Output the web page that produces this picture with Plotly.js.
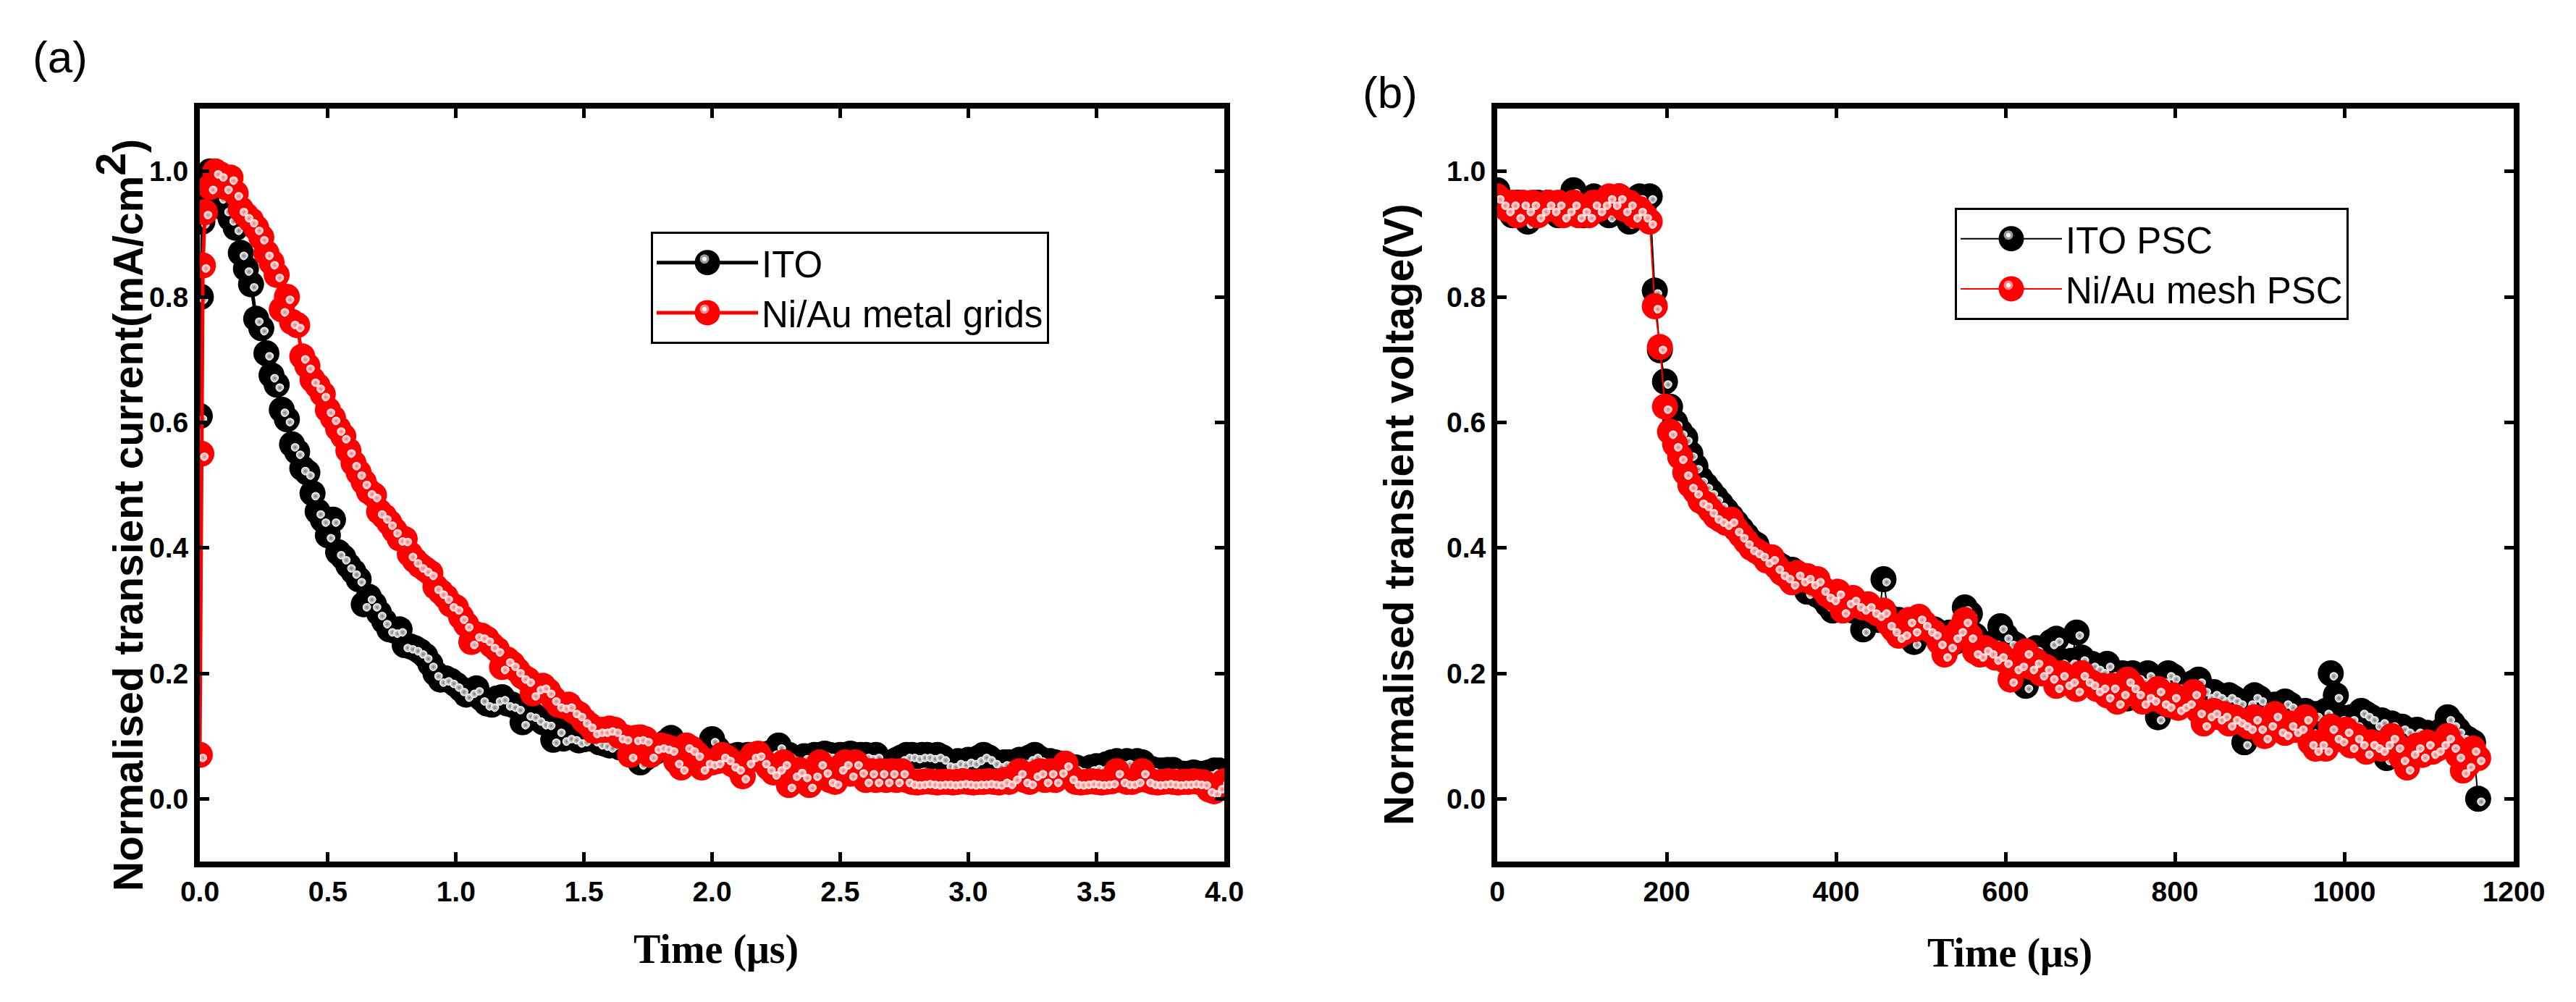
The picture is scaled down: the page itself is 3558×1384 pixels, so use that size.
<!DOCTYPE html>
<html>
<head>
<meta charset="utf-8">
<script src="https://cdn.plot.ly/plotly-3.0.1.min.js"></script>
<style>
  html, body { margin: 0; padding: 0; background: #fff; }
  #chart { width: 3558px; height: 1384px; }
</style>
</head>
<body>
<div id="chart"></div>
<script>
// (a) transient current, time step 0.02 us after the rise points
const itoRiseTime = [0, 0.004, 0.01]
const itoRise = [0.61, 0.80, 0.92]
const itoCurrent = [
  0.97, 1.00, 0.99, 0.96, 0.94, 0.925, 0.91, 0.87, 0.845, 0.82,
  0.765, 0.75, 0.71, 0.675, 0.66, 0.62, 0.605, 0.565, 0.553, 0.527,
  0.52, 0.487, 0.458, 0.445, 0.42, 0.445, 0.393, 0.385, 0.372, 0.362,
  0.35, 0.31, 0.322, 0.31, 0.296, 0.283, 0.27, 0.268, 0.27, 0.245,
  0.243, 0.24, 0.235, 0.228, 0.215, 0.2, 0.19, 0.192, 0.188, 0.182,
  0.175, 0.166, 0.172, 0.176, 0.16, 0.152, 0.15, 0.16, 0.162, 0.152,
  0.15, 0.146, 0.122, 0.136, 0.134, 0.128, 0.122, 0.121, 0.094, 0.11,
  0.096, 0.1, 0.098, 0.093, 0.095, 0.104, 0.095, 0.09, 0.088, 0.085,
  0.09, 0.082, 0.085, 0.078, 0.072, 0.058, 0.065, 0.07, 0.075, 0.08,
  0.09, 0.097, 0.08, 0.075, 0.07, 0.072, 0.068, 0.07, 0.075, 0.095,
  0.08, 0.07, 0.068, 0.065, 0.07, 0.062, 0.07, 0.066, 0.07, 0.068,
  0.072, 0.075, 0.085, 0.07, 0.07, 0.065, 0.06, 0.068, 0.062, 0.07,
  0.07, 0.072, 0.07, 0.068, 0.07, 0.07, 0.072, 0.07, 0.07, 0.07,
  0.068, 0.07, 0.06, 0.055, 0.058, 0.062, 0.066, 0.07, 0.07, 0.068,
  0.07, 0.07, 0.068, 0.07, 0.066, 0.056, 0.055, 0.06, 0.058, 0.062,
  0.06, 0.065, 0.07, 0.066, 0.06, 0.055, 0.058, 0.058, 0.056, 0.062,
  0.06, 0.066, 0.07, 0.064, 0.058, 0.06, 0.058, 0.056, 0.055, 0.05,
  0.05, 0.047, 0.046, 0.05, 0.052, 0.05, 0.055, 0.058, 0.06, 0.058,
  0.06, 0.058, 0.06, 0.058, 0.05, 0.047, 0.045, 0.045, 0.046, 0.046,
  0.04, 0.04, 0.04, 0.042, 0.04, 0.04, 0.042, 0.045, 0.045
]
const gridRiseTime = [0, 0.006, 0.012]
const gridRise = [0.07, 0.55, 0.85]
const gridCurrent = [
  0.935, 0.975, 1.00, 0.995, 0.975, 0.99, 0.965, 0.94, 0.93, 0.922,
  0.91, 0.895, 0.87, 0.855, 0.835, 0.78, 0.8, 0.76, 0.755, 0.705,
  0.69, 0.668, 0.658, 0.645, 0.62, 0.607, 0.59, 0.578, 0.555, 0.535,
  0.52, 0.505, 0.49, 0.484, 0.458, 0.45, 0.44, 0.428, 0.415, 0.414,
  0.39, 0.38, 0.372, 0.366, 0.36, 0.338, 0.33, 0.322, 0.31, 0.305,
  0.29, 0.278, 0.25, 0.262, 0.26, 0.255, 0.245, 0.238, 0.21, 0.222,
  0.215, 0.205, 0.195, 0.19, 0.168, 0.178, 0.18, 0.172, 0.16, 0.15,
  0.148, 0.15, 0.14, 0.135, 0.125, 0.118, 0.108, 0.11, 0.11, 0.112,
  0.11, 0.1, 0.098, 0.07, 0.097, 0.098, 0.095, 0.07, 0.083, 0.085,
  0.083, 0.08, 0.06, 0.05, 0.085, 0.08, 0.072, 0.05, 0.06, 0.058,
  0.06, 0.07, 0.065, 0.055, 0.05, 0.036, 0.06, 0.07, 0.072, 0.06,
  0.05, 0.042, 0.05, 0.058, 0.022, 0.04, 0.046, 0.038, 0.022, 0.04,
  0.058, 0.045, 0.03, 0.027, 0.05, 0.058, 0.04, 0.058, 0.045, 0.03,
  0.044, 0.03, 0.044, 0.03, 0.044, 0.03, 0.044, 0.03, 0.027, 0.026,
  0.027, 0.028, 0.027, 0.026, 0.027, 0.027, 0.026, 0.027, 0.028, 0.027,
  0.026, 0.027, 0.027, 0.028, 0.027, 0.026, 0.03, 0.027, 0.035, 0.044,
  0.03, 0.027, 0.04, 0.044, 0.03, 0.044, 0.03, 0.045, 0.056, 0.035,
  0.027, 0.026, 0.027, 0.028, 0.027, 0.026, 0.027, 0.028, 0.044, 0.03,
  0.027, 0.027, 0.03, 0.044, 0.03, 0.027, 0.026, 0.027, 0.028, 0.027,
  0.026, 0.027, 0.027, 0.028, 0.027, 0.026, 0.015, 0.012, 0.02, 0.028
]

// (b) transient voltage, time step 6 us
const itoVoltage = [
  0.97, 0.95, 0.94, 0.93, 0.95, 0.94, 0.92, 0.93, 0.95, 0.94,
  0.95, 0.94, 0.93, 0.95, 0.94, 0.97, 0.95, 0.93, 0.94, 0.96,
  0.95, 0.94, 0.93, 0.95, 0.96, 0.95, 0.92, 0.94, 0.96, 0.95,
  0.96, 0.81, 0.715, 0.665, 0.625, 0.6, 0.585, 0.575, 0.55, 0.53,
  0.51, 0.5, 0.49, 0.48, 0.47, 0.46, 0.45, 0.44, 0.43, 0.42,
  0.41, 0.405, 0.39, 0.385, 0.38, 0.375, 0.37, 0.36, 0.365, 0.355,
  0.345, 0.33, 0.335, 0.325, 0.32, 0.31, 0.3, 0.315, 0.31, 0.305,
  0.3, 0.305, 0.27, 0.295, 0.29, 0.285, 0.35, 0.29, 0.28, 0.285,
  0.28, 0.27, 0.25, 0.275, 0.27, 0.265, 0.27, 0.26, 0.255, 0.265,
  0.25, 0.26, 0.305, 0.295, 0.26, 0.25, 0.245, 0.24, 0.25, 0.275,
  0.26, 0.25, 0.245, 0.23, 0.18, 0.235, 0.24, 0.23, 0.225, 0.25,
  0.255, 0.22, 0.215, 0.22, 0.265, 0.225, 0.21, 0.215, 0.21, 0.205,
  0.215, 0.2, 0.195, 0.2, 0.16, 0.2, 0.195, 0.19, 0.2, 0.185,
  0.13, 0.19, 0.2, 0.195, 0.18, 0.175, 0.17, 0.185, 0.19, 0.175,
  0.165, 0.17, 0.165, 0.16, 0.165, 0.16, 0.155, 0.09, 0.155, 0.165,
  0.16, 0.15, 0.145, 0.15, 0.145, 0.155, 0.15, 0.14, 0.135, 0.14,
  0.13, 0.135, 0.13, 0.14, 0.2, 0.165, 0.13, 0.125, 0.13, 0.12,
  0.14, 0.135, 0.13, 0.12, 0.125, 0.065, 0.12, 0.11, 0.115, 0.11,
  0.105, 0.11, 0.1, 0.105, 0.1, 0.095, 0.11, 0.13, 0.12, 0.11,
  0.1, 0.095, 0.09, 0.0
]
const meshVoltage = [
  0.96, 0.95, 0.94, 0.95, 0.93, 0.95, 0.94, 0.95, 0.93, 0.94,
  0.95, 0.94, 0.95, 0.93, 0.94, 0.95, 0.93, 0.94, 0.93, 0.95,
  0.94, 0.95, 0.96, 0.95, 0.96, 0.94, 0.95, 0.93, 0.94, 0.93,
  0.92, 0.785, 0.72, 0.625, 0.585, 0.565, 0.545, 0.52, 0.5, 0.49,
  0.475, 0.47, 0.46, 0.45, 0.445, 0.44, 0.445, 0.43, 0.42, 0.41,
  0.4, 0.395, 0.39, 0.38, 0.385, 0.37, 0.36, 0.355, 0.345, 0.36,
  0.35, 0.355, 0.345, 0.35, 0.335, 0.325, 0.32, 0.33, 0.3, 0.315,
  0.32, 0.31, 0.305, 0.31, 0.3, 0.295, 0.3, 0.28, 0.27, 0.26,
  0.265, 0.285, 0.27, 0.29, 0.28, 0.27, 0.265, 0.25, 0.23, 0.245,
  0.26, 0.27, 0.285, 0.26, 0.235, 0.23, 0.24, 0.235, 0.225, 0.23,
  0.22, 0.19, 0.21, 0.215, 0.235, 0.21, 0.22, 0.2, 0.21, 0.195,
  0.18, 0.2, 0.185, 0.19, 0.175, 0.2, 0.19, 0.185, 0.175, 0.18,
  0.165, 0.18, 0.155, 0.17, 0.19, 0.18, 0.17, 0.155, 0.165, 0.16,
  0.175, 0.155, 0.15, 0.165, 0.145, 0.15, 0.155, 0.17, 0.14, 0.12,
  0.135, 0.14, 0.13, 0.135, 0.12, 0.13, 0.125, 0.12, 0.115, 0.13,
  0.115, 0.1, 0.12, 0.135, 0.11, 0.105, 0.12, 0.11, 0.115, 0.13,
  0.09, 0.08, 0.09, 0.08, 0.115, 0.1, 0.095, 0.11, 0.085, 0.1,
  0.09, 0.075, 0.09, 0.085, 0.08, 0.09, 0.1, 0.085, 0.065, 0.05,
  0.075, 0.085, 0.07, 0.09, 0.075, 0.08, 0.09, 0.1, 0.085, 0.07,
  0.045, 0.055, 0.08, 0.065
]

const currentTicks = [0, 0.5, 1, 1.5, 2, 2.5, 3, 3.5, 4]
const voltageTicks = [0, 200, 400, 600, 800, 1000, 1200]
const normTicks = [0, 0.2, 0.4, 0.6, 0.8, 1.0]

const W = 3558, H = 1384
const px = v => v / W
const py = v => 1 - v / H

const itoTime = itoRiseTime.concat(itoCurrent.map((_, i) => +(0.02 * (i + 1)).toFixed(2)))
const gridTime = gridRiseTime.concat(gridCurrent.map((_, i) => +(0.02 * (i + 1)).toFixed(2)))
const itoY = itoRise.concat(itoCurrent)
const gridY = gridRise.concat(gridCurrent)
const voltTime = itoVoltage.map((_, i) => 6 * i)

// each series = solid ball + small highlight drawn on top
function ballTraces(x, y, name, color, glow, lineW, xa, ya, legend) {
    return [
        {
            x: x, y: y, type: 'scatter', mode: 'lines+markers', name: name,
            xaxis: xa, yaxis: ya, legend: legend,
            line: { color: color, width: lineW },
            marker: { color: color, size: 36, line: { width: 0 } }
        },
        {
            x: x, y: y, type: 'scatter', mode: 'markers', showlegend: false,
            hoverinfo: 'skip', xaxis: xa, yaxis: ya,
            marker: {
                color: 'white', size: 12, angle: -45, standoff: 6,
                gradient: { type: 'radial', color: glow },
                line: { width: 0 }
            }
        }
    ]
}

const data = [].concat(
    ballTraces(itoTime, itoY, 'ITO', 'black', '#7a7a7a', 5, 'x', 'y', 'legend'),
    ballTraces(gridTime, gridY, 'Ni/Au metal grids', '#ff0000', '#ff7070', 5, 'x', 'y', 'legend'),
    ballTraces(voltTime, itoVoltage, 'ITO PSC', 'black', '#7a7a7a', 2, 'x2', 'y2', 'legend2'),
    ballTraces(voltTime, meshVoltage, 'Ni/Au mesh PSC', '#ff0000', '#ff7070', 2, 'x2', 'y2', 'legend2')
)

const tickFont = { family: 'Liberation Sans, Arial', size: 39, color: 'black', weight: 'bold' }
const axisBase = {
    showline: true, linewidth: 8, linecolor: 'black', mirror: 'ticks',
    ticks: 'inside', ticklen: 13, tickwidth: 5, tickcolor: 'black',
    showgrid: false, zeroline: false, tickfont: tickFont
}
const yDomain = [py(1190), py(150)]

const legendBase = {
    font: { family: 'Liberation Sans, Arial', size: 51, color: 'black' },
    bordercolor: 'black', borderwidth: 3, bgcolor: 'white',
    xanchor: 'left', yanchor: 'top', itemwidth: 140, tracegroupgap: 0
}

const titleFont = { family: 'Liberation Sans, Arial', size: 57, color: 'black', weight: 'bold' }
const timeFont = { family: 'Liberation Serif, Times New Roman', size: 56, color: 'black', weight: 'bold' }
const panelFont = { family: 'Liberation Sans, Arial', size: 62, color: 'black' }

const layout = {
    width: W, height: H,
    margin: { l: 0, r: 0, t: 0, b: 0 },
    paper_bgcolor: 'white', plot_bgcolor: 'white',
    xaxis: Object.assign({}, axisBase, {
        domain: [px(276), px(1691)], range: [0, 4], anchor: 'y',
        tickvals: currentTicks, tickformat: '.1f'
    }),
    yaxis: Object.assign({}, axisBase, {
        domain: yDomain, range: [-0.1, 1.1], anchor: 'x',
        tickvals: normTicks, tickformat: '.1f'
    }),
    xaxis2: Object.assign({}, axisBase, {
        domain: [px(2068), px(3472)], range: [0, 1200], anchor: 'y2',
        tickvals: voltageTicks
    }),
    yaxis2: Object.assign({}, axisBase, {
        domain: yDomain, range: [-0.1, 1.1], anchor: 'x2',
        tickvals: normTicks, tickformat: '.1f'
    }),
    legend: Object.assign({}, legendBase, { x: px(899), y: py(320) }),
    legend2: Object.assign({}, legendBase, { x: px(2700), y: py(287) }),
    showlegend: true,
    annotations: [
        { text: '(a)', x: px(83), y: py(78), font: panelFont },
        { text: '(b)', x: px(1920), y: py(128), font: panelFont },
        {
            text: 'Normalised transient current(mA/cm<sup><span style="font-size:57px">2</span></sup>)',
            textangle: -90, x: px(165), y: py(712), font: titleFont
        },
        {
            text: 'Normalised transient voltage(V)', textangle: -90,
            x: px(1932), y: py(711), font: titleFont
        },
        { text: 'Time (μs)', x: px(989), y: py(1311), font: timeFont },
        { text: 'Time (μs)', x: px(2776), y: py(1316), font: timeFont }
    ].map(a => Object.assign({ xref: 'paper', yref: 'paper', showarrow: false, xanchor: 'center', yanchor: 'middle' }, a))
}

const circle = (cx, cy, r) =>
    `M${cx + r},${cy}A${r},${r} 0 1,1 ${cx},${cy - r}A${r},${r} 0 0,1 ${cx + r},${cy}Z`

Plotly.newPlot('chart', data, layout, { staticPlot: true }).then(gd => {
    // legend symbols are capped in size by plotly: draw them at the plot's ball size
    gd.querySelectorAll('.legendpoints .scatterpts').forEach(p => {
        p.setAttribute('d', circle(0, 0, 17.5))
        const red = (p.style.fill || '').indexOf('255, 0, 0') >= 0
        const ring = p.cloneNode(false)
        ring.setAttribute('d', circle(-4, -5, 6.5))
        ring.style.fill = red ? '#ff8a8a' : '#9a9a9a'
        const dot = p.cloneNode(false)
        dot.setAttribute('d', circle(-4, -5, 3))
        dot.style.fill = 'white'
        p.parentNode.appendChild(ring)
        p.parentNode.appendChild(dot)
    })
})
</script>
</body>
</html>
